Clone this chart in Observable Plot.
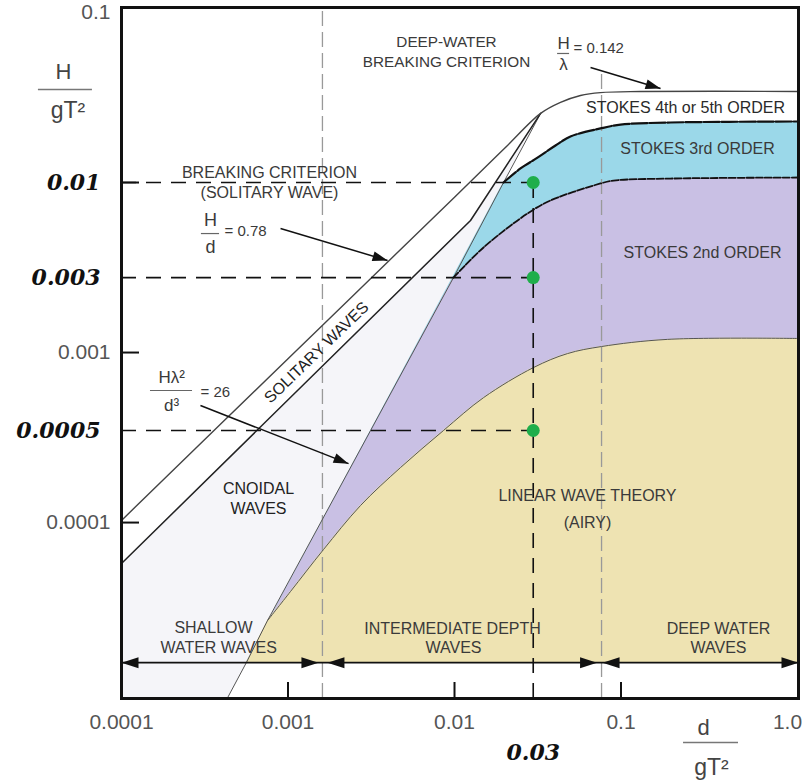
<!DOCTYPE html>
<html><head><meta charset="utf-8">
<script src="https://cdn.jsdelivr.net/npm/d3@7"></script>
<script src="https://cdn.jsdelivr.net/npm/@observablehq/plot@0.6"></script>
<style>
body{margin:0;background:#fff}
g[aria-label="annot"] text{letter-spacing:0.7px}
</style></head><body><div id="chart"></div>
<script>
// ---------- data ----------
const xDomain = [1e-4, 1.164];
const yDomain = [9.23e-6, 0.107];
const xTicks = [1e-4, 1e-3, 1e-2, 0.1, 1];
const xTickLabels = ["0.0001", "0.001", "0.01", "0.1", "1.0"];
const yTicks = [0.1, 0.001, 0.0001];
const yTickLabels = ["0.1", "0.001", "0.0001"];
const yMinorTicks = [0.01, 0.001, 0.0001];
const xMinorTicks = [0.001, 0.01, 0.1];

// breaking limit: H/d = 0.78 (shallow) to H/L = 0.142 (deep)
const breakD = [1e-4, 1e-3, 1e-2, 0.02, 0.0329, 0.0433, 0.0571, 0.0753, 0.131, 1.164];
const breakH = [1.03e-4, 9.2e-4, 8.2e-3, 0.0159, 0.0255, 0.0296, 0.0325, 0.0338, 0.0343, 0.0343];
// lower solitary-wave line
const solD = [1e-4, 0.01248, 0.0329];
const solH = [5.74e-5, 0.00598, 0.0255];
// Ursell line  H L^2 / d^3 = 26
const ursD = [4.33e-4, 5.62e-4, 7.53e-4, 9.86e-3, 0.0197, 0.0329];
const ursH = [9.3e-6, 1.5e-5, 2.65e-5, 2.76e-3, 0.0100, 0.0255];
// Stokes 3rd / 4th-5th boundary
const s3TopD = [0.0197, 0.0249, 0.0315, 0.0404, 0.0497, 0.0753, 0.0993, 0.198, 1.164];
const s3TopH = [0.0100, 0.0121, 0.0140, 0.0165, 0.01865, 0.0208, 0.0219, 0.02254, 0.02285];
// Stokes 2nd / 3rd boundary
const s2TopD = [0.00986, 0.01494, 0.02744, 0.0377, 0.0753, 0.0902, 0.198, 1.164];
const s2TopH = [0.00276, 0.00415, 0.00657, 0.00784, 0.00987, 0.01027, 0.01055, 0.0107];
// linear / Stokes 2nd boundary
const linTopD = [7.53e-4, 1.035e-3, 1.634e-3, 2.725e-3, 4.74e-3, 8.59e-3, 1.494e-2, 2.98e-2, 4.77e-2, 7.64e-2, 0.1903, 1.164];
const linTopH = [2.65e-5, 3.93e-5, 6.94e-5, 1.259e-4, 2.107e-4, 3.48e-4, 5.43e-4, 8.16e-4, 9.86e-4, 1.085e-3, 1.195e-3, 1.21e-3];
// depth zones
const zoneLimits = [1e-4, 0.00161, 0.0764, 1.164];
const zoneLevel = 1.5e-5;
// example points
const exampleD = 0.0297;
const exampleDLabel = "0.03";
const exampleH = [0.01, 0.00276, 0.000348];
const exampleHLabels = ["0.01", "0.003", "0.0005"];

// ---------- layout ----------
const W = 806, H = 784, mL = 121, mR = 8, mT = 7, mB = 86;
const innerW = W - mL - mR, innerH = H - mT - mB;
const sx = d3.scaleLog(xDomain, [mL, W - mR]);
const sy = d3.scaleLog(yDomain, [H - mB, mT]);

const pts = (D, Hs) => D.map((d, i) => ({d, h: Hs[i]}));
function band(D, Hs, fill) {
  const data = D.map((d, i) => ({d, h: Hs[i], d0: i === 0 ? ursD[1] : d}));
  return Plot.area(data, {x1: "d0", y1: zoneLevel, x2: "d", y2: "h", fill, curve: "catmull-rom"});
}
const paleData = [
  {d1: xDomain[0], h1: yDomain[0], d2: solD[0], h2: solH[0]},
  {d1: ursD[0], h1: yDomain[0], d2: solD[1], h2: solH[1]},
  {d1: ursD[5], h1: ursH[5], d2: solD[2], h2: solH[2]}
];

const headA = {draw(c) { c.moveTo(0, 0); c.lineTo(-15, -5); c.lineTo(-15, 5); c.closePath(); }};
const headB = {draw(c) { c.moveTo(0, 0); c.lineTo(-17, -5.5); c.lineTo(-17, 5.5); c.closePath(); }};

const arrows = [
  {d1: 9.02e-4, h1: 5.36e-3, d2: 3.96e-3, h2: 3.48e-3},
  {d1: 0.0656, h1: 0.0475, d2: 0.1727, h2: 0.0357},
  {d1: 2.98e-4, h1: 4.88e-4, d2: 2.31e-3, h2: 2.22e-4}
];
const angle = a => Math.atan2(sy(a.h2) - sy(a.h1), sx(a.d2) - sx(a.d1)) * 180 / Math.PI;

const note = (text, d, h, o = {}) =>
  Plot.text([text], {x: d, y: h, text: t => t, fontSize: 16, fill: "#3a3a3a", ariaLabel: "annot", ...o});
const plain = (text, d, h, o = {}) =>
  Plot.text([text], {x: d, y: h, text: t => t, fontSize: 17, fill: "#3a3a3a", ...o});
const boldItalic = {fontSize: 22, fontWeight: "bold", fontStyle: "italic", fontFamily: "DejaVu Serif", fill: "#111"};

const chart = Plot.plot({
  width: W, height: H,
  marginLeft: mL, marginRight: mR, marginTop: mT, marginBottom: mB,
  style: {fontFamily: "Liberation Sans, Arial, sans-serif", background: "#fff", overflow: "visible"},
  x: {type: "log", domain: xDomain, label: null},
  y: {type: "log", domain: yDomain, label: null},
  marks: [
    // regions
    Plot.area(paleData, {x1: "d1", y1: "h1", x2: "d2", y2: "h2", fill: "#f5f5f9"}),
    band(s3TopD, s3TopH, "#9bd8e9"),
    band(s2TopD, s2TopH, "#c9c0e4"),
    band(linTopD, linTopH, "#eee3b2"),
    // zone separators
    Plot.ruleX([zoneLimits[1]], {y1: yDomain[0], y2: yDomain[1], stroke: "#999", strokeWidth: 1.3, strokeDasharray: "15,6"}),
    Plot.ruleX([zoneLimits[2]], {y1: yDomain[0], y2: 0.045, stroke: "#999", strokeWidth: 1.3, strokeDasharray: "15,6"}),
    // boundaries
    Plot.line(pts(ursD, ursH), {x: "d", y: "h", stroke: "#555", strokeWidth: 1}),
    Plot.line(pts(linTopD, linTopH), {x: "d", y: "h", stroke: "#555", strokeWidth: 1, curve: "catmull-rom"}),
    Plot.line(pts(s2TopD, s2TopH), {x: "d", y: "h", stroke: "#111", strokeWidth: 1.8, strokeDasharray: "7,2", curve: "catmull-rom"}),
    Plot.line(pts(s3TopD, s3TopH), {x: "d", y: "h", stroke: "#111", strokeWidth: 2.2, strokeDasharray: "16,2", curve: "catmull-rom"}),
    Plot.line(pts(solD, solH), {x: "d", y: "h", stroke: "#222", strokeWidth: 1.5}),
    Plot.line(pts(breakD, breakH), {x: "d", y: "h", stroke: "#444", strokeWidth: 1.4, curve: "catmull-rom"}),
    // example reading lines
    Plot.ruleY(exampleH, {x1: xDomain[0], x2: exampleD, stroke: "#111", strokeWidth: 1.6, strokeDasharray: "15,10"}),
    Plot.ruleX([exampleD], {y1: yDomain[0], y2: exampleH[0], stroke: "#111", strokeWidth: 1.6, strokeDasharray: "15,10"}),
    Plot.dot(exampleH, {x: exampleD, y: h => h, r: 6.5, fill: "#1fae4a", stroke: "none"}),
    // depth zone arrows
    Plot.ruleY([zoneLevel], {x1: xDomain[0], x2: xDomain[1], stroke: "#111", strokeWidth: 1.6}),
    Plot.dot([zoneLimits[0]], {x: d => d, y: zoneLevel, symbol: headB, rotate: 180, fill: "#111", stroke: "none"}),
    Plot.dot([zoneLimits[1]], {x: d => d, y: zoneLevel, symbol: headB, dx: -4, fill: "#111", stroke: "none"}),
    Plot.dot([zoneLimits[1]], {x: d => d, y: zoneLevel, symbol: headB, rotate: 180, dx: 5, fill: "#111", stroke: "none"}),
    Plot.dot([zoneLimits[2]], {x: d => d, y: zoneLevel, symbol: headB, dx: -4.5, fill: "#111", stroke: "none"}),
    Plot.dot([zoneLimits[2]], {x: d => d, y: zoneLevel, symbol: headB, rotate: 180, dx: 1, fill: "#111", stroke: "none"}),
    Plot.dot([zoneLimits[3]], {x: d => d, y: zoneLevel, symbol: headB, fill: "#111", stroke: "none"}),
    // annotation arrows
    Plot.link(arrows, {x1: "d1", y1: "h1", x2: "d2", y2: "h2", stroke: "#111", strokeWidth: 1.5}),
    Plot.dot(arrows, {x: "d2", y: "h2", symbol: headA, rotate: a => angle(a), fill: "#111", stroke: "none"}),
    // region labels
    note("STOKES 4th or 5th ORDER", 0.244, 0.0276, {fill: "#2a2a2a"}),
    note("STOKES 3rd ORDER", 0.288, 0.01585),
    note("STOKES 2nd ORDER", 0.309, 3.875e-3),
    note("LINEAR WAVE THEORY", 0.0629, 1.441e-4),
    note("(AIRY)", 0.0629, 1e-4),
    note("CNOIDAL", 6.65e-4, 1.585e-4, {fill: "#222"}),
    note("WAVES", 6.65e-4, 1.209e-4, {fill: "#222"}),
    note("SHALLOW", 3.57e-4, 2.41e-5),
    note("WATER WAVES", 3.83e-4, 1.84e-5),
    note("INTERMEDIATE DEPTH", 9.73e-3, 2.38e-5),
    note("WAVES", 9.86e-3, 1.84e-5),
    note("DEEP WATER", 0.385, 2.38e-5),
    note("WAVES", 0.385, 1.84e-5),
    note("BREAKING CRITERION", 7.74e-4, 0.01145),
    note("(SOLITARY WAVE)", 7.74e-4, 8.73e-3),
    note("DEEP-WATER", 8.95e-3, 0.0666, {fontSize: 15.3}),
    note("BREAKING CRITERION", 8.95e-3, 0.0508, {fontSize: 15.3}),
    note("SOLITARY WAVES", 1.483e-3, 1e-3, {rotate: -44, fill: "#222"}),
    // fractions
    plain("H", 0.0452, 0.0657),
    plain("λ", 0.0452, 0.0494),
    Plot.ruleY([0.0574], {x1: 0.0416, x2: 0.0491, stroke: "#666", strokeWidth: 1.2}),
    plain("= 0.142", 0.0518, 0.0614, {textAnchor: "start", fontSize: 15}),
    plain("H", 3.42e-4, 5.98e-3, {fontSize: 18}),
    plain("d", 3.42e-4, 4.145e-3, {fontSize: 18}),
    Plot.ruleY([5.01e-3], {x1: 3.02e-4, x2: 3.88e-4, stroke: "#666", strokeWidth: 1.2}),
    plain("= 0.78", 4.155e-4, 5.15e-3, {textAnchor: "start", fontSize: 15}),
    plain("Hλ²", 2.0e-4, 7.13e-4),
    plain("d³", 2.0e-4, 4.88e-4),
    Plot.ruleY([5.98e-4], {x1: 1.493e-4, x2: 2.67e-4, stroke: "#666", strokeWidth: 1.2}),
    plain("= 26", 2.98e-4, 5.82e-4, {textAnchor: "start", fontSize: 15}),
    // axis titles
    plain("H", 4.48e-5, 0.0444, {fontSize: 22, fill: "#444"}),
    Plot.ruleY([0.03524], {x1: 3.17e-5, x2: 6.69e-5, stroke: "#777", strokeWidth: 1.5}),
    plain("gT²", 4.77e-5, 0.0265, {fontSize: 23, fill: "#444"}),
    plain("d", 0.313, 6.22e-6, {fontSize: 22, fill: "#444"}),
    Plot.ruleY([5.08e-6], {x1: 0.2374, x2: 0.5077, stroke: "#777", strokeWidth: 1.5}),
    plain("gT²", 0.3496, 3.62e-6, {fontSize: 23, fill: "#444"}),
    // frame, ticks, axes
    Plot.ruleY(yMinorTicks, {insetRight: innerW - 18, stroke: "#111", strokeWidth: 2}),
    Plot.ruleX(xMinorTicks, {insetTop: innerH - 16, stroke: "#111", strokeWidth: 2}),
    Plot.frame({stroke: "#111", strokeWidth: 3}),
    Plot.axisX(xTicks, {tickSize: 0, tickPadding: 16, fontSize: 21, color: "#555",
      tickFormat: d => xTickLabels[xTicks.indexOf(d)]}),
    Plot.axisY(yTicks, {tickSize: 0, tickPadding: 11, fontSize: 21, color: "#555",
      tickFormat: d => yTickLabels[yTicks.indexOf(d)]}),
    Plot.axisY(exampleH, {tickSize: 0, tickPadding: 21, fontSize: 22, fontWeight: "bold", fontStyle: "italic",
      fontFamily: "DejaVu Serif", color: "#111", tickFormat: d => exampleHLabels[exampleH.indexOf(d)]}),
    Plot.text([exampleDLabel], {x: exampleD, y: 4.44e-6, text: t => t, ...boldItalic})
  ]
});
document.getElementById("chart").appendChild(chart);
</script></body></html>
